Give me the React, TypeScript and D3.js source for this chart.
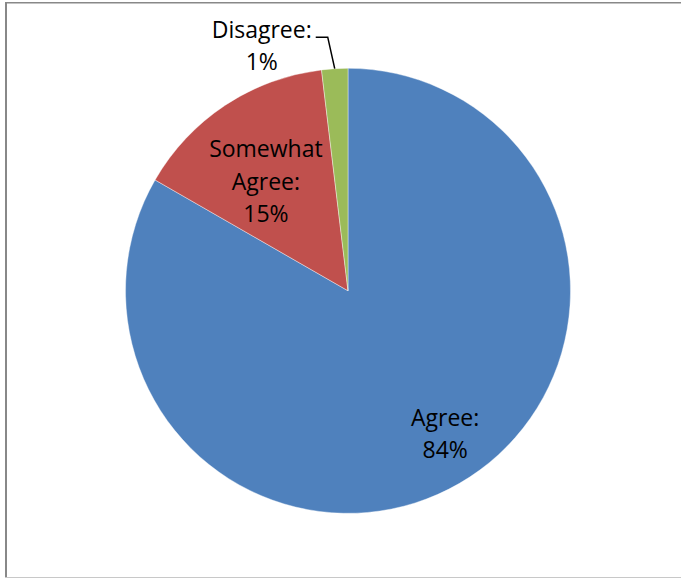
import React from "react";
import * as d3 from "d3";

const categories = ["Agree", "Somewhat Agree", "Disagree"];
const values = [83.3, 14.8, 1.9];
const valueLabels = ["84%", "15%", "1%"];
const labelLines = [["Agree:", "84%"], ["Somewhat", "Agree:", "15%"], ["Disagree:", "1%"]];
const colors = ["#4F81BD", "#C0504D", "#9BBB59"];

const W = 681;
const H = 578;
const cx = 348;
const cy = 290.8;
const R = 222.5;
const FONT = "'Open Sans', 'DejaVu Sans', sans-serif";
const FS = 23;
const LINE_H = 32.5;

export default function App() {
  const pie = d3.pie<number>().sort(null).value((d) => d)(values);
  const arc = d3.arc<d3.PieArcDatum<number>>().innerRadius(0).outerRadius(R);
  const edge = d3.arc<d3.PieArcDatum<number>>().innerRadius(R).outerRadius(R);

  const labelRadius = [0.8 * R, 0.62 * R];
  const anchors = pie.map((p, i) => {
    if (i < 2) {
      const a = d3.arc<d3.PieArcDatum<number>>().innerRadius(labelRadius[i]).outerRadius(labelRadius[i]);
      const [x, y] = a.centroid(p);
      return [x, y];
    }
    return [0, 0];
  });
  const adj = [[8, -11], [-6, 6]];

  const dis = pie[2];
  const [ex, ey] = edge.centroid(dis);

  return (
    <svg width={W} height={H} style={{ position: "absolute", left: 0, top: 0, background: "#fff" }}>
      <rect x={0} y={0} width={W} height={H} fill="#fff" />
      <line x1={6} y1={2} x2={6} y2={578} stroke="#888" strokeWidth={2} />
      <line x1={5} y1={2.75} x2={681} y2={2.75} stroke="#888" strokeWidth={1.5} />
      <line x1={5} y1={577.5} x2={681} y2={577.5} stroke="#c8c8c8" strokeWidth={1} />
      <g transform={`translate(${cx},${cy})`}>
        {pie.map((p, i) => (
          <path key={categories[i]} d={arc(p) || ""} fill={colors[i]} stroke="#fff" strokeWidth={0.4} />
        ))}
        {pie.slice(0, 2).map((p, i) => {
          const lines = labelLines[i];
          const x = anchors[i][0] + adj[i][0];
          const y0 = anchors[i][1] + adj[i][1] - ((lines.length - 1) * LINE_H) / 2;
          return (
            <text key={"l" + i} x={x} fontFamily={FONT} fontSize={FS} textAnchor="middle" fill="#000">
              {lines.map((t, j) => (
                <tspan key={j} x={x} y={y0 + j * LINE_H} dy="0.35em">
                  {t}
                </tspan>
              ))}
            </text>
          );
        })}
        <polyline
          points={`${ex},${ey} ${ex - 7},${ey - 31.5} ${ex - 19},${ey - 31.5}`}
          fill="none"
          stroke="#000"
          strokeWidth={1.5}
        />
        <text fontFamily={FONT} fontSize={FS} textAnchor="middle" fill="#000">
          <tspan x={ex - 73} y={ey - 39} dy="0.35em">{labelLines[2][0]}</tspan>
          <tspan x={ex - 73} y={ey - 39 + LINE_H} dy="0.35em">{valueLabels[2]}</tspan>
        </text>
      </g>
    </svg>
  );
}
